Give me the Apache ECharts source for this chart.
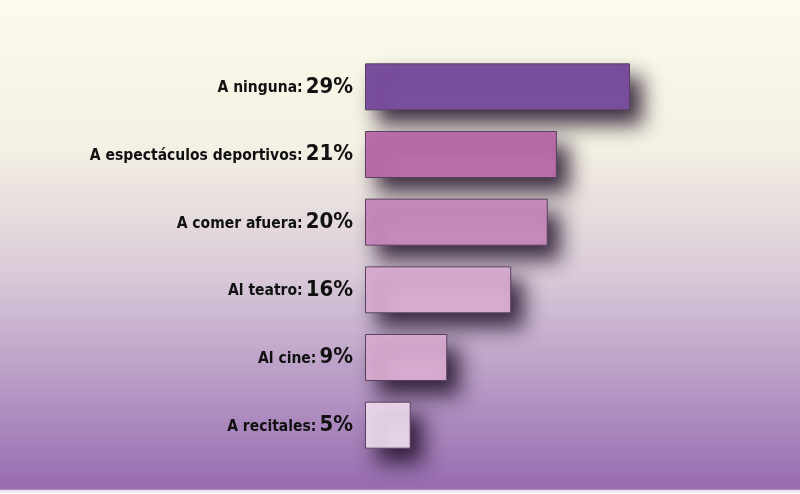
<!DOCTYPE html>
<html><head><meta charset="utf-8">
<script src="https://cdn.jsdelivr.net/npm/echarts@6/dist/echarts.min.js"></script>
<style>html,body{margin:0;padding:0;}#c{width:800px;height:494px;}</style>
</head><body><div id="c"></div>
<script>
const categories = ['A ninguna', 'A espectáculos deportivos', 'A comer afuera', 'Al teatro', 'Al cine', 'A recitales'];
const values = [29, 21, 20, 16, 9, 5];
const barColors = ['#7b4fa0', '#bb6eab', '#c98bbd', '#d8aed0', '#d8acd0', '#ead6ea'];

const chart = echarts.init(document.getElementById('c'));
const font = '"Liberation Sans Narrow", "DejaVu Sans Condensed", "Roboto", sans-serif';
chart.setOption({
  animation: false,
  backgroundColor: {
    type: 'linear', x: 0, y: 0, x2: 0, y2: 1,
    colorStops: [
      { offset: 0, color: '#fcfbeb' },
      { offset: 0.3, color: '#f4f0e3' },
      { offset: 0.55, color: '#dacbd9' },
      { offset: 0.8, color: '#b395c3' },
      { offset: 0.99, color: '#976bb0' },
      { offset: 0.993, color: '#e8e0ec' },
      { offset: 1, color: '#ffffff' }
    ]
  },
  grid: { left: 365, right: 170, top: 53, bottom: 35 },
  xAxis: { type: 'value', min: 0, max: 29, show: false },
  yAxis: {
    type: 'category', inverse: true, data: categories,
    axisLine: { show: false }, axisTick: { show: false },
    axisLabel: {
      margin: 12,
      formatter: function (v, i) { return '{n|' + v + ':}{p|' + values[i] + '%}'; },
      rich: {
        n: { fontFamily: font, fontWeight: 'bold', fontSize: 15.5, color: '#111', padding: [3, 3, 0, 0] },
        p: { fontFamily: font, fontWeight: 'bold', fontSize: 22, color: '#111' }
      }
    }
  },
  series: [{
    type: 'bar', barWidth: 47,
    data: values.map((v, i) => ({
      value: v,
      itemStyle: { color: barColors[i] }
    })),
    itemStyle: {
      borderColor: '#5a4060', borderWidth: 1,
      shadowColor: 'rgba(30,15,40,0.85)', shadowBlur: 20, shadowOffsetX: 12, shadowOffsetY: 14
    }
  }]
});
</script></body></html>
